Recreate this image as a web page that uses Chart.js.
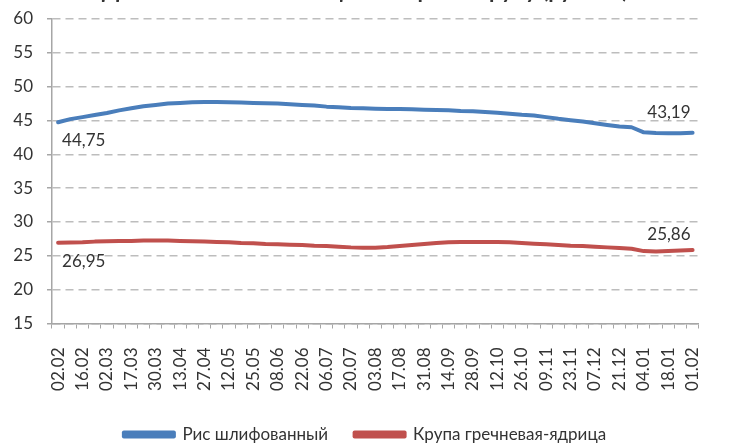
<!DOCTYPE html>
<html>
<head>
<meta charset="utf-8">
<script src="https://cdn.jsdelivr.net/npm/chart.js@4.4.0/dist/chart.umd.min.js"></script>
<style>
html, body { margin: 0; padding: 0; background: #fff; }
#frame { position: relative; width: 732px; height: 446px; overflow: hidden; }
#box { position: absolute; left: 0; top: -22px; width: 732px; height: 477px; }
</style>
</head>
<body>
<div id="frame"><div id="box"><canvas id="myChart"></canvas></div></div>
<script>
const dates = ['02.02','09.02','16.02','24.02','02.03','10.03','17.03','23.03','30.03','06.04',
    '13.04','20.04','27.04','05.05','12.05','18.05','25.05','01.06','08.06','15.06',
    '22.06','29.06','06.07','13.07','20.07','27.07','03.08','10.08','17.08','24.08',
    '31.08','07.09','14.09','21.09','28.09','05.10','12.10','19.10','26.10','02.11',
    '09.11','16.11','23.11','30.11','07.12','14.12','21.12','28.12','04.01','11.01',
    '18.01','25.01','01.02'];

const rice = [44.75,45.2,45.5,45.8,46.1,46.5,46.8,47.1,47.3,47.5,
    47.6,47.7,47.75,47.75,47.7,47.65,47.6,47.55,47.5,47.4,
    47.3,47.2,47.05,46.95,46.85,46.8,46.75,46.7,46.7,46.65,
    46.6,46.55,46.5,46.4,46.35,46.25,46.15,46.0,45.85,45.75,
    45.5,45.25,45.05,44.85,44.6,44.35,44.1,44.0,43.25,43.15,
    43.1,43.12,43.19];

const buckwheat = [26.95,26.97,27.0,27.1,27.15,27.2,27.2,27.25,27.25,27.25,
    27.2,27.15,27.1,27.05,27.0,26.9,26.85,26.75,26.7,26.65,
    26.6,26.5,26.45,26.35,26.25,26.2,26.2,26.3,26.45,26.6,
    26.75,26.9,27.0,27.05,27.05,27.05,27.05,27.0,26.9,26.8,
    26.7,26.6,26.5,26.45,26.35,26.25,26.15,26.05,25.7,25.65,
    25.7,25.78,25.86];

const seriesNames = ['Рис шлифованный', 'Крупа гречневая-ядрица'];
const chartTitle = 'Динамика изменения цены на рис и крупу (рублей)';

// which point values are printed next to the line
const labelSpots = [
    { ds: 0, idx: 0, dx: 4, dy: 18, align: 'left' },
    { ds: 1, idx: 0, dx: 4, dy: 19, align: 'left' },
    { ds: 0, idx: 52, dx: -2, dy: -20, align: 'right' },
    { ds: 1, idx: 52, dx: -2, dy: -15, align: 'right' }
];

const txt = '#333333';
const fontName = 'Lato';

const endLabels = {
    id: 'endLabels',
    afterDatasetsDraw(chart) {
        const ctx = chart.ctx;
        ctx.save();
        ctx.font = '17px ' + fontName;
        ctx.fillStyle = txt;
        ctx.textBaseline = 'middle';
        for (let lb of labelSpots) {
            const pt = chart.getDatasetMeta(lb.ds).data[lb.idx];
            const v = chart.data.datasets[lb.ds].data[lb.idx];
            ctx.textAlign = lb.align;
            ctx.fillText(v.toFixed(2).replace('.', ','), pt.x + lb.dx, pt.y + lb.dy);
        }
        ctx.restore();
    }
};

let data = {
    labels: dates,
    datasets: [{
        label: seriesNames[0],
        data: rice,
        borderColor: '#4a7ebb',
        backgroundColor: '#4a7ebb',
        borderWidth: 4,
        pointRadius: 0,
        tension: 0,
        borderCapStyle: 'round',
        borderJoinStyle: 'round'
    }, {
        label: seriesNames[1],
        data: buckwheat,
        borderColor: '#c0504d',
        backgroundColor: '#c0504d',
        borderWidth: 4,
        pointRadius: 0,
        tension: 0,
        borderCapStyle: 'round',
        borderJoinStyle: 'round'
    }]
};

let config = {
    type: 'line',
    data: data,
    options: {
        responsive: true,
        maintainAspectRatio: false,
        animation: false,
        layout: { padding: { left: 0, right: 2, top: 0, bottom: 2 } },
        plugins: {
            title: {
                display: true,
                text: chartTitle,
                color: txt,
                font: { family: fontName, size: 22, weight: 'bold' },
                padding: { top: 0, bottom: 14.6 }
            },
            legend: {
                position: 'bottom',
                labels: {
                    color: txt,
                    font: { family: fontName, size: 17 },
                    boxWidth: 50,
                    boxHeight: 4,
                    padding: 26.5
                }
            },
            tooltip: { enabled: false }
        },
        scales: {
            x: {
                offset: true,
                afterFit: s => { s.height = 76; },
                grid: {
                    offset: true,
                    drawOnChartArea: false,
                    tickLength: 5,
                    tickColor: '#a6a6a6',
                    tickBorderDash: []
                },
                border: { color: '#a6a6a6', width: 1.5 },
                ticks: {
                    autoSkip: false,
                    maxRotation: 90,
                    minRotation: 90,
                    padding: 19,
                    color: txt,
                    font: { family: fontName, size: 17 },
                    callback: function(val, i) { return i % 2 === 0 ? this.getLabelForValue(val) : ''; }
                }
            },
            y: {
                min: 15,
                max: 60,
                afterFit: s => { s.width = 52; },
                grid: {
                    color: '#bdbdbd',
                    lineWidth: 1.5,
                    tickLength: 5,
                    tickColor: '#a6a6a6',
                    tickBorderDash: []
                },
                border: { color: '#a6a6a6', width: 1.5, dash: [8, 5] },
                ticks: {
                    stepSize: 5,
                    padding: 14,
                    color: txt,
                    font: { family: fontName, size: 17 }
                }
            }
        }
    },
    plugins: [endLabels]
};

let myChart = new Chart(document.getElementById('myChart'), config);
</script>
</body>
</html>
